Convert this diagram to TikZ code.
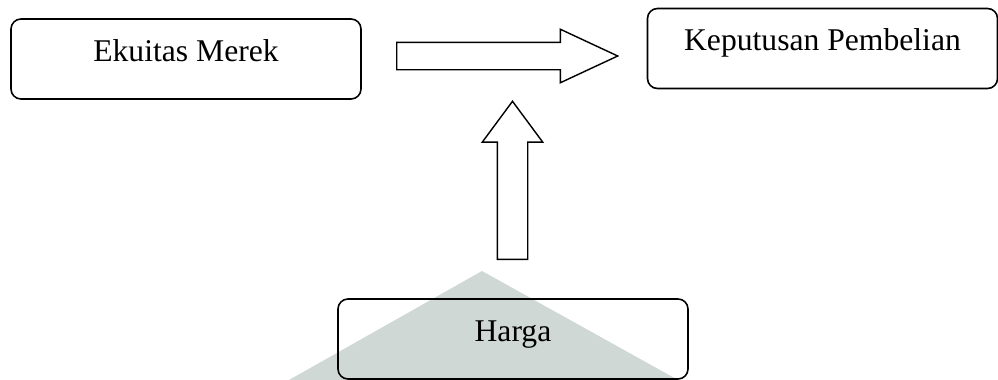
\documentclass[tikz,border=0pt]{standalone}
\usepackage{fontspec}
\setmainfont{Liberation Serif}
\usetikzlibrary{shapes,shapes.arrows,positioning}
\definecolor{watermark}{RGB}{208,216,213}
\begin{document}
\begin{tikzpicture}[x=0.2mm,y=-0.2mm,
      box/.style={draw,rounded corners=2mm,line width=0.9pt,inner sep=0pt,
        minimum width=70mm,minimum height=16mm,text height=8.5mm,text depth=7.5mm,
        font=\fontsize{18}{21.6}\selectfont},
      bigarrow/.style={draw,single arrow,line width=0.8pt,inner xsep=0pt,anchor=tail}
      ]
      \useasboundingbox (0,0) rectangle (998,380);
      \fill[watermark] (482,271) -- (289,380) -- (678,380) -- cycle;
      \node[box] (EM) at (186,59) {Ekuitas Merek};
      \node[box] (KP) at (822.5,48.5) {Keputusan Pembelian};
      \node[box] (H) at (513,339) {Harga};
      \node[bigarrow,minimum height=44.2mm,inner ysep=2.6mm,
        single arrow head extend=2.6mm,single arrow tip angle=50] (A1) at (396,56) {};
      \node[bigarrow,rotate=90,minimum height=31.6mm,inner ysep=2.9mm,
        single arrow head extend=3mm,single arrow tip angle=73] (A2) at (512.5,260) {};
    \end{tikzpicture}
\end{document}
